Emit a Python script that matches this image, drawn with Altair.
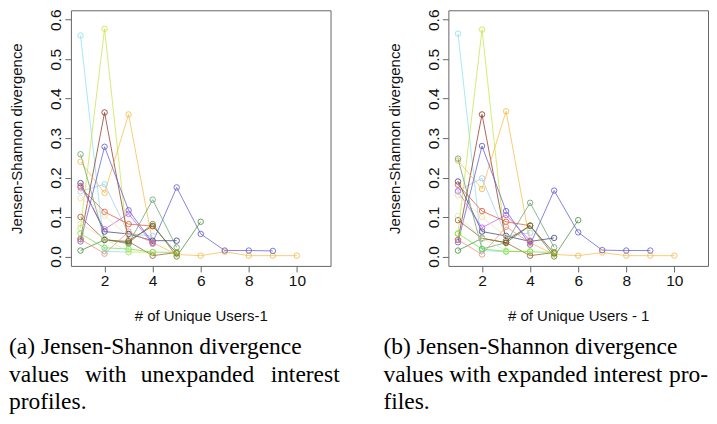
import altair as alt
import pandas as pd

# ---------------- data ----------------
X_TICKS = [2, 4, 6, 8, 10]
Y_TICKS = [0.0, 0.1, 0.2, 0.3, 0.4, 0.5, 0.6]

SERIES = ["cyan", "skyblue", "chartreuse", "maroon", "orange", "slateblue",
          "navy", "purple", "red", "green", "darkgreen", "sienna", "salmon",
          "lime", "cream", "palegreen"]
COLORS = ["#86dff0", "#95cdf0", "#c3e640", "#8b2e1e", "#f8b840", "#5a55d0",
          "#3a3d7a", "#b65ce8", "#e8502e", "#5f9e6a", "#3e8a2e", "#a0522d",
          "#f08872", "#6ce03a", "#efe0a8", "#cdeeb0"]

# panel (a): unexpanded interest profiles (values at x = 1, 2, 3, ...)
A_CYAN = [0.560, 0.013, 0.011]
A_SKYBLUE = [0.165, 0.183, 0.057, 0.052]
A_CHARTREUSE = [0.072, 0.577, 0.011, 0.011]
A_MAROON = [0.044, 0.365, 0.040, 0.077, 0.008]
A_ORANGE = [0.240, 0.161, 0.360, 0.035, 0.005, 0.002, 0.012, 0.002, 0.002, 0.002]
A_SLATEBLUE = [0.038, 0.278, 0.117, 0.035, 0.175, 0.057, 0.015, 0.015, 0.014]
A_NAVY = [0.186, 0.063, 0.057, 0.040, 0.040]
A_PURPLE = [0.179, 0.069, 0.108, 0.032]
A_RED = [0.175, 0.113, 0.082, 0.077]
A_GREEN = [0.259, 0.044, 0.032, 0.144, 0.023]
A_DARKGREEN = [0.015, 0.042, 0.035, 0.082, 0.000, 0.088]
A_SIENNA = [0.100, 0.042, 0.038, 0.002, 0.010]
A_SALMON = [0.044, 0.007, 0.063, 0.035]
A_LIME = [0.058, 0.022, 0.019, 0.011, 0.010]
A_CREAM = [0.148, 0.103, 0.050]
A_PALEGREEN = [0.083, 0.045, 0.012]

# panel (b): expanded interest profiles
B_CYAN = [0.565, 0.015, 0.012]
B_SKYBLUE = [0.167, 0.198, 0.052, 0.060]
B_CHARTREUSE = [0.058, 0.575, 0.013, 0.013]
B_MAROON = [0.042, 0.360, 0.040, 0.078, 0.008]
B_ORANGE = [0.243, 0.171, 0.368, 0.035, 0.005, 0.002, 0.010, 0.002, 0.002, 0.002]
B_SLATEBLUE = [0.036, 0.280, 0.115, 0.030, 0.167, 0.061, 0.016, 0.015, 0.015]
B_NAVY = [0.190, 0.063, 0.052, 0.038, 0.047]
B_PURPLE = [0.165, 0.073, 0.105, 0.040]
B_RED = [0.182, 0.115, 0.088, 0.078]
B_GREEN = [0.248, 0.019, 0.035, 0.136, 0.023]
B_DARKGREEN = [0.015, 0.046, 0.035, 0.078, 0.000, 0.092]
B_SIENNA = [0.092, 0.046, 0.035, 0.002, 0.010]
B_SALMON = [0.042, 0.005, 0.075, 0.035]
B_LIME = [0.058, 0.019, 0.013, 0.012, 0.010]
B_CREAM = [0.155, 0.100, 0.050]
B_PALEGREEN = [0.103, 0.046, 0.015]

A_VALUES = [A_CYAN, A_SKYBLUE, A_CHARTREUSE, A_MAROON, A_ORANGE, A_SLATEBLUE,
            A_NAVY, A_PURPLE, A_RED, A_GREEN, A_DARKGREEN, A_SIENNA, A_SALMON,
            A_LIME, A_CREAM, A_PALEGREEN]
B_VALUES = [B_CYAN, B_SKYBLUE, B_CHARTREUSE, B_MAROON, B_ORANGE, B_SLATEBLUE,
            B_NAVY, B_PURPLE, B_RED, B_GREEN, B_DARKGREEN, B_SIENNA, B_SALMON,
            B_LIME, B_CREAM, B_PALEGREEN]

Y_TITLE = "Jensen-Shannon divergence"
X_TITLE_A = "# of Unique Users-1"
X_TITLE_B = "# of Unique Users - 1"

CAPTION_A = ["(a) Jensen-Shannon divergence",
             ["values", "with", "unexpanded", "interest"],
             "profiles."]
CAPTION_B = ["(b) Jensen-Shannon divergence",
             ["values", "with", "expanded", "interest", "pro-"],
             "files."]

# ---------------- layout ----------------
W, H = 260, 256
SANS = "Liberation Sans"
SERIF = "Liberation Serif"
CAP_SIZE = 23.5
CAP_Y = [344, 372, 399]


def frame(values):
    rows = []
    for name, vals in zip(SERIES, values):
        for i, v in enumerate(vals):
            rows.append({"series": name, "x": i + 1, "y": v})
    return pd.DataFrame(rows)


def text_layer(txt, x, y):
    return alt.Chart(pd.DataFrame({"t": [txt]})).mark_text(
        align="left", baseline="alphabetic", font=SERIF, fontSize=CAP_SIZE,
        color="#000"
    ).encode(text="t:N", x=alt.value(x), y=alt.value(y))


def panel(values, xtitle, caption, cap_x0, word_x):
    df = frame(values)
    base = alt.Chart(df).encode(
        x=alt.X("x:Q",
                scale=alt.Scale(domain=[0.6, 11.4], nice=False, zero=False),
                axis=alt.Axis(values=X_TICKS, format="d", title=xtitle, grid=False,
                              domain=False, tickSize=6, tickColor="#666",
                              labelFont=SANS, labelFontSize=15.5, labelColor="#111",
                              labelPadding=2, labelBaseline="top", labelFlush=False,
                              titleFont=SANS, titleFontSize=15, titleFontWeight="normal",
                              titleColor="#111", titleX=W / 2, titleY=55,
                              titleAlign="center", titleBaseline="alphabetic")),
        y=alt.Y("y:Q",
                scale=alt.Scale(domain=[-0.024, 0.624], nice=False, zero=False),
                axis=alt.Axis(values=Y_TICKS, format=".1f", title=Y_TITLE, grid=False,
                              domain=False, tickSize=6, tickColor="#666",
                              labelFont=SANS, labelFontSize=15.5, labelColor="#111",
                              labelAngle=-90, labelAlign="center", labelBaseline="bottom",
                              labelPadding=1, labelFlush=False,
                              titleFont=SANS, titleFontSize=15, titleFontWeight="normal",
                              titleColor="#111", titleX=-54, titleY=H / 2,
                              titleAngle=-90, titleAlign="center",
                              titleBaseline="middle")),
        color=alt.Color("series:N", scale=alt.Scale(domain=SERIES, range=COLORS),
                        legend=None),
    )
    lines = base.mark_line(strokeWidth=1, opacity=0.72)
    pts = base.mark_point(shape="circle", filled=False, size=30, strokeWidth=1,
                          opacity=0.8)
    layers = [lines, pts,
              text_layer(caption[0], cap_x0, CAP_Y[0]),
              text_layer(caption[2], cap_x0, CAP_Y[2])]
    for word, wx in zip(caption[1], word_x):
        layers.append(text_layer(word, wx, CAP_Y[1]))
    return alt.layer(*layers).properties(width=W, height=H)


left = panel(A_VALUES, X_TITLE_A, CAPTION_A, -62, [-62, 14, 70, 200])
right = panel(B_VALUES, X_TITLE_B, CAPTION_B, -65, [-65, 1, 49, 145, 221])

chart = alt.hconcat(left, right, spacing=118, bounds="flush").properties(
    padding=0
).configure_view(stroke="#666", strokeWidth=1)

chart.save("out.html", embed_options={"renderer": "svg", "actions": False})
